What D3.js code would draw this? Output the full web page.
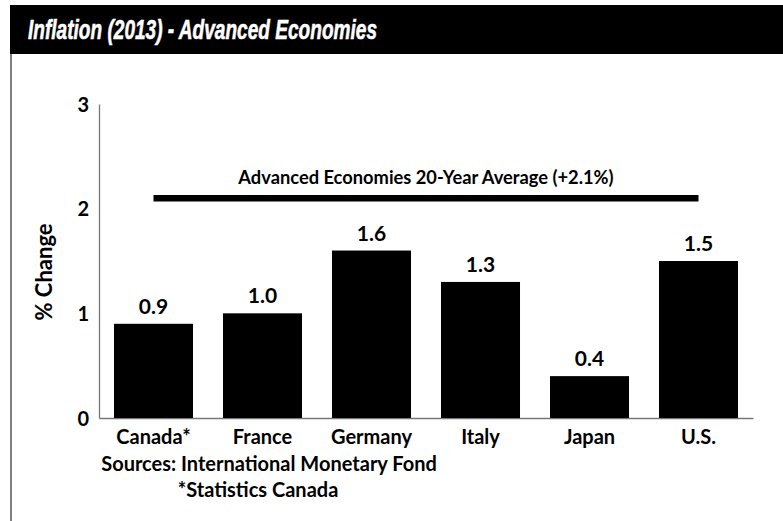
<!DOCTYPE html>
<html>
<head>
<meta charset="utf-8">
<script src="https://cdn.jsdelivr.net/npm/d3@7"></script>
<style>
  html, body { margin: 0; padding: 0; background: #fff; }
  svg { display: block; }
  text { font-family: Lato, "Open Sans", sans-serif; fill: #000; }
</style>
</head>
<body>
<svg id="chart" width="783" height="521"></svg>
<script>
// 2013 inflation, % change, by country
const countries = ["Canada*", "France", "Germany", "Italy", "Japan", "U.S."];
const inflation = [0.9, 1.0, 1.6, 1.3, 0.4, 1.5];
const valueLabels = ["0.9", "1.0", "1.6", "1.3", "0.4", "1.5"];
const yTicks = [0, 1, 2, 3];
const averageValue = 2.1;
const averageLabel = "Advanced Economies 20-Year Average (+2.1%)";
const titleText = "Inflation (2013) - Advanced Economies";
const yAxisTitle = "% Change";
const sourceLines = ["Sources: International Monetary Fond", "*Statistics Canada"];

const svg = d3.select("#chart");
const W = 783, H = 521;

// Header band
svg.append("rect").attr("x", 10).attr("y", 5).attr("width", W - 10).attr("height", 49).attr("fill", "#000");
svg.append("text")
  .attr("x", 28).attr("y", 39)
  .attr("textLength", 349).attr("lengthAdjust", "spacingAndGlyphs")
  .style("font-family", "'Liberation Sans Narrow', 'Liberation Sans', sans-serif")
  .style("font-weight", "bold").style("font-style", "italic")
  .style("font-size", "28px").style("fill", "#fff")
  .style("stroke", "#fff").style("stroke-width", 0.6)
  .text(titleText);

// Left frame rule below the header
svg.append("line").attr("x1", 11).attr("x2", 11).attr("y1", 54).attr("y2", H)
  .attr("stroke", "#555").attr("stroke-width", 1.5);

// Plot area
const plotLeft = 99, plotRight = 753, plotTop = 104, plotBottom = 418;
const x = d3.scaleBand().domain(countries).range([plotLeft, plotRight])
  .paddingInner(0.275).paddingOuter(0.1375);
const y = d3.scaleLinear().domain([0, 3]).range([plotBottom, plotTop]);

// Axes: plain grey rules, labels only
const yAxis = d3.axisLeft(y).tickValues(yTicks).tickSize(0).tickPadding(10).tickFormat(d3.format("d"));
const gy = svg.append("g").attr("transform", `translate(${plotLeft},0)`).call(yAxis);
gy.select(".domain").attr("stroke", "#777").attr("stroke-width", 1.3);
gy.selectAll(".tick text").style("font-size", "20px").style("font-weight", "bold")
  .style("font-family", "Lato, sans-serif").attr("dy", "0.36em");

const xAxis = d3.axisBottom(x).tickSize(0).tickPadding(12);
const gx = svg.append("g").attr("transform", `translate(0,${plotBottom})`).call(xAxis);
gx.select(".domain").attr("stroke", "#777").attr("stroke-width", 1.3);
gx.selectAll(".tick text").style("font-size", "20px").style("font-weight", "bold")
  .style("font-family", "Lato, sans-serif");

// Bars
svg.append("g").selectAll("rect").data(countries).join("rect")
  .attr("x", d => x(d))
  .attr("width", x.bandwidth())
  .attr("y", (d, i) => y(inflation[i]))
  .attr("height", (d, i) => y(0) - y(inflation[i]))
  .attr("fill", "#000");

// Value labels
svg.append("g").selectAll("text").data(countries).join("text")
  .attr("x", d => x(d) + x.bandwidth() / 2)
  .attr("y", (d, i) => y(inflation[i]) - 10)
  .attr("text-anchor", "middle")
  .style("font-size", "21px").style("font-weight", "bold")
  .text((d, i) => valueLabels[i]);

// 20-year average rule spanning first to last bar centre
const ax1 = x(countries[0]) + x.bandwidth() / 2;
const ax2 = x(countries[countries.length - 1]) + x.bandwidth() / 2;
svg.append("line")
  .attr("x1", ax1).attr("x2", ax2)
  .attr("y1", y(averageValue)).attr("y2", y(averageValue))
  .attr("stroke", "#000").attr("stroke-width", 6.5);
svg.append("text")
  .attr("x", (ax1 + ax2) / 2).attr("y", y(averageValue) - 14)
  .attr("text-anchor", "middle")
  .style("font-size", "18.3px").style("font-weight", "bold")
  .text(averageLabel);

// Y axis title
svg.append("text")
  .attr("transform", "translate(52,272) rotate(-90)")
  .attr("text-anchor", "middle")
  .style("font-size", "22px").style("font-weight", "bold")
  .text(yAxisTitle);

// Sources
svg.append("text").attr("x", 269).attr("y", 471).attr("text-anchor", "middle")
  .style("font-size", "20px").style("font-weight", "bold").text(sourceLines[0]);
svg.append("text").attr("x", 258).attr("y", 497).attr("text-anchor", "middle")
  .style("font-size", "20px").style("font-weight", "bold").text(sourceLines[1]);
</script>
</body>
</html>
